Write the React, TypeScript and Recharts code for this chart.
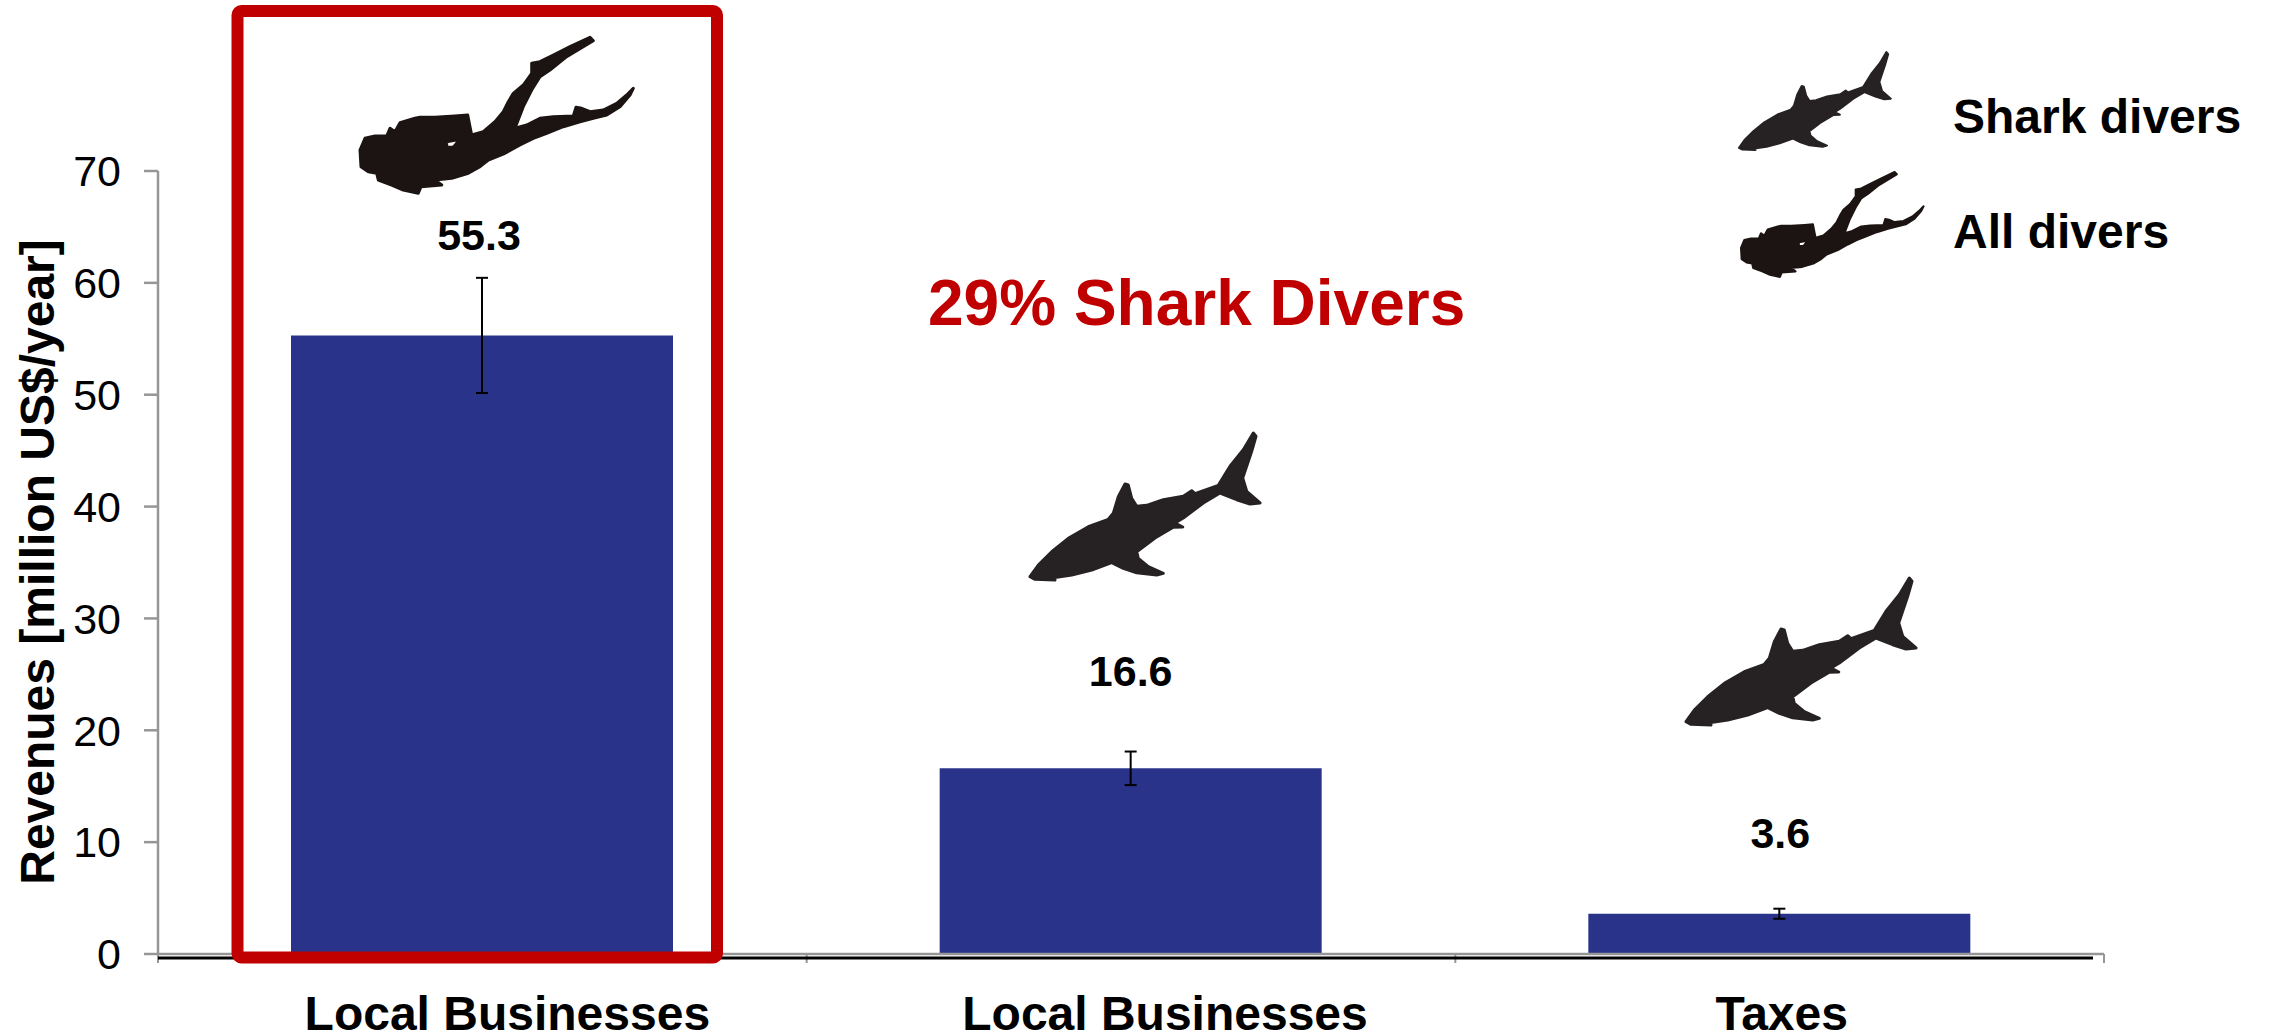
import React from 'react';
import { BarChart, Bar, XAxis, YAxis, ErrorBar, LabelList } from 'recharts';

const categories = ['Local Businesses', 'Local Businesses', 'Taxes'];
const revenues = [55.3, 16.6, 3.6];
const errors = [5.15, 1.5, 0.45];
const yTicks = [0, 10, 20, 30, 40, 50, 60, 70];

const data = categories.map((category, i) => ({
  category,
  revenue: revenues[i],
  err: errors[i],
}));

const W = 2269;
const H = 1033;
const PLOT_LEFT = 158;
const PLOT_RIGHT = 2104;
const PLOT_TOP = 171;
const PLOT_BOTTOM = 954;
const STEP = (PLOT_RIGHT - PLOT_LEFT) / categories.length;

const FONT = '"Liberation Sans", Arial, sans-serif';
const BLUE = '#283389';
const RED = '#c00000';
const GREY = '#969696';
const SHARK = '#262223';
const DIVER = '#1c1412';

// the original labels are not centred under their bars
const tickShift = [25, 34, 2];
const labelShift = [-3, 0, 1];
const labelGap = [85, 82, 66];

// silhouettes
const sharkPath =
  'M1030 576.7 L1038.3 565 L1051.7 551.7 L1068.3 538.3 L1088.3 526.7 L1108.3 519.3 L1113.3 513.3 L1118.3 496.7 ' +
  'L1125 484 L1128.3 485 L1131.7 498.3 L1136.7 506.3 L1146.7 505.3 L1163.3 499.7 L1183.3 496.3 L1191.7 490.7 ' +
  'L1195 493.7 L1218.3 485.3 L1230 466.3 L1243.3 449.7 L1253.3 433 L1256 436.3 L1251.7 451.3 L1242.7 478 ' +
  'L1246.7 491.3 L1260 503 L1250 504 L1236.7 499.7 L1220 493 L1203.3 503 L1183.3 518 L1175 523 L1182.7 527 ' +
  'L1173.3 527.3 L1155 538 L1136.7 551.7 L1138.3 558.3 L1148.3 566.7 L1163.3 573.3 L1156.7 575 L1136.7 572.7 ' +
  'L1123.3 568.3 L1111.7 562.7 L1091.7 570 L1071.7 575 L1053.3 577.7 L1055 580 L1035 579.3 Z';

const diverPath =
  'M503.3 111.7 L508.3 101.7 L513.3 93.3 L523.3 85 L531.7 73.3 L531.7 63.3 L540 61.7 L553.3 55 L570 46.7 ' +
  'L590 37.3 L593.3 40.7 L583.3 46.7 L566.7 56.7 L550 70 L540 76.7 L531.7 90 L523.3 106.7 L515 128.3 ' +
  'L526.7 125 L540 118.3 L553.3 116.7 L573.3 116 L576 107.3 L581.7 108.3 L590 111.7 L603.3 110 L616.7 103.3 ' +
  'L626.7 95 L633.3 88.3 L630 95 L620 106.7 L606.7 115 L593.3 118.3 L580 121.7 L563.3 126.7 L546.7 133.3 ' +
  'L533.3 138.3 L520 145 L505 153.3 L488.3 160 L480 166.7 L468.3 173.3 L451.7 178.3 L435 180 L441.7 185 ' +
  'L421 186.7 L418.3 193.3 L403.3 190 L391.7 185 L378.3 180 L376.7 173.3 L368.3 171.7 L361 166.7 L360 150 ' +
  'L365 138.3 L375 136 L386.7 136 L390 128.3 L395 131.7 L400 122.7 L415 118.3 L420 117.3 L435 117.3 ' +
  'L455 116 L467.7 115 L470 126.7 L471.7 135 L483.3 131.7 L495 121.7 Z ' +
  'M446.7 141.7 L460 139.3 L453.3 147.3 L446.7 147.3 Z';

const CategoryTick = (props: any) => {
  const { x, index, payload } = props;
  const left = x - STEP / 2;
  const right = x + STEP / 2;
  return (
    <g>
      <line x1={left} x2={left} y1={PLOT_BOTTOM} y2={PLOT_BOTTOM + 9} stroke={GREY} strokeWidth={2} />
      {index === categories.length - 1 && (
        <line x1={right} x2={right} y1={PLOT_BOTTOM} y2={PLOT_BOTTOM + 9} stroke={GREY} strokeWidth={2} />
      )}
      <text
        x={x + tickShift[index]}
        y={1030}
        textAnchor="middle"
        fontFamily={FONT}
        fontWeight="bold"
        fontSize={48}
        fill="#000"
      >
        {payload.value}
      </text>
    </g>
  );
};

const ValueLabel = (props: any) => {
  const { x, y, width, value, index } = props;
  return (
    <text
      x={x + width / 2 + labelShift[index]}
      y={y - labelGap[index]}
      textAnchor="middle"
      fontFamily={FONT}
      fontWeight="bold"
      fontSize={43}
      fill="#000"
    >
      {value}
    </text>
  );
};

const App: React.FC = () => {
  return (
    <div style={{ position: 'absolute', left: 0, top: 0, width: W, height: H, background: '#fff', overflow: 'hidden' }}>
      <BarChart
        width={W}
        height={H}
        data={data}
        margin={{ top: PLOT_TOP, right: W - PLOT_RIGHT, bottom: 0, left: 0 }}
      >
        <XAxis
          dataKey="category"
          height={H - PLOT_BOTTOM}
          stroke={GREY}
          strokeWidth={2.5}
          tickLine={false}
          interval={0}
          tick={CategoryTick}
        />
        <YAxis
          width={PLOT_LEFT}
          domain={[0, 70]}
          ticks={yTicks}
          stroke={GREY}
          strokeWidth={2.5}
          tickSize={14}
          tickMargin={23}
          tick={{ fontFamily: FONT, fontSize: 43, fill: '#000', stroke: 'none' }}
          label={{
            content: () => (
              <text
                transform="translate(54 562) rotate(-90)"
                textAnchor="middle"
                fontFamily={FONT}
                fontWeight="bold"
                fontSize={48}
                fill="#000"
              >
                Revenues [million US$/year]
              </text>
            ),
          }}
        />
        <Bar dataKey="revenue" fill={BLUE} barSize={382} isAnimationActive={false}>
          <ErrorBar dataKey="err" width={6} stroke="#000" strokeWidth={2} isAnimationActive={false} />
          <LabelList dataKey="revenue" content={ValueLabel} />
        </Bar>
      </BarChart>

      <svg width={W} height={H} style={{ position: 'absolute', left: 0, top: 0, pointerEvents: 'none' }}>
        <line x1={PLOT_LEFT} x2={2093} y1={958} y2={958} stroke="#000" strokeWidth={3} />
        <rect x={237.5} y={11} width={479.5} height={946.5} rx={4} fill="none" stroke={RED} strokeWidth={12} />

        <g strokeLinejoin="round">
          <path d={diverPath} fill={DIVER} stroke={DIVER} strokeWidth={3} fillRule="evenodd" />
          <path d={sharkPath} fill={SHARK} stroke={SHARK} strokeWidth={3} />
          <path d={sharkPath} fill={SHARK} stroke={SHARK} strokeWidth={3} transform="translate(656 145)" />
          <path d={sharkPath} fill={SHARK} stroke={SHARK} strokeWidth={3} transform="translate(1059.2 -236.8) scale(0.66 0.667)" />
          <path d={diverPath} fill={DIVER} stroke={DIVER} strokeWidth={3} fillRule="evenodd" transform="translate(1500.5 146.9) scale(0.668 0.673)" />
        </g>

        <text x={928} y={325} fontFamily={FONT} fontWeight="bold" fontSize={64} fill={RED}>
          29% Shark Divers
        </text>
        <text x={1953} y={133} fontFamily={FONT} fontWeight="bold" fontSize={48} fill="#000">
          Shark divers
        </text>
        <text x={1953} y={248} fontFamily={FONT} fontWeight="bold" fontSize={48} fill="#000">
          All divers
        </text>
      </svg>
    </div>
  );
};

export default App;
